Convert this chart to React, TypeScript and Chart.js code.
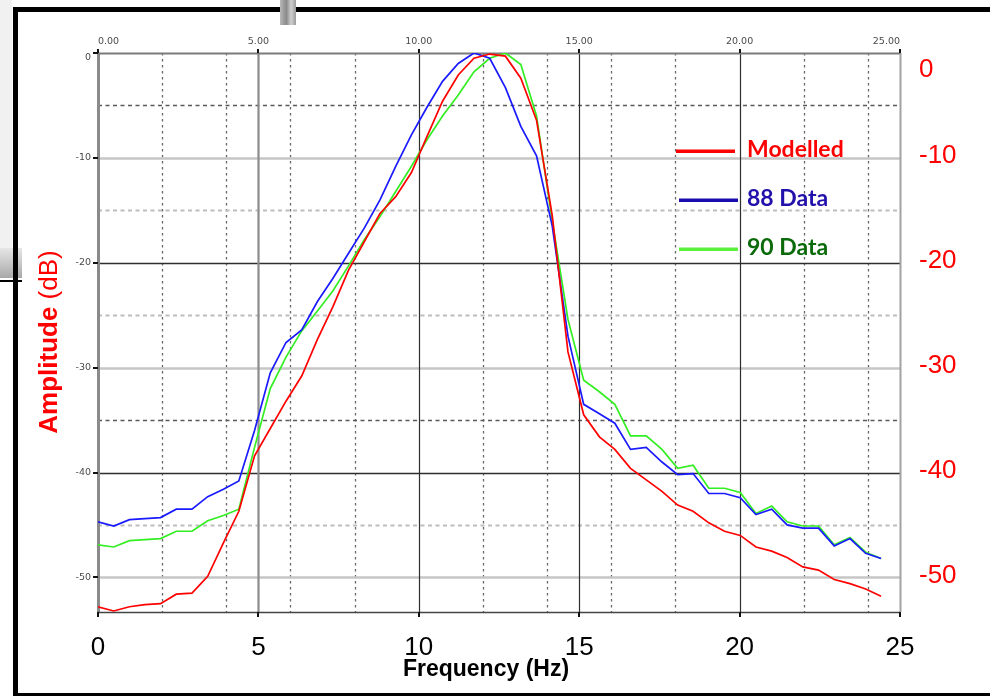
import React, { useEffect, useRef } from "react";
import { Chart, registerables } from "chart.js";

Chart.register(...registerables);

// Frequency bins (Hz)
const frequencies = [
  0, 0.49, 0.98, 1.46, 1.95, 2.44, 2.93, 3.42, 3.91, 4.39, 4.88, 5.37, 5.86, 6.35, 6.84, 7.32, 7.81,
  8.3, 8.79, 9.28, 9.77, 10.25, 10.74, 11.23, 11.72, 12.21, 12.7, 13.18, 13.67, 14.16, 14.65, 15.14,
  15.63, 16.11, 16.6, 17.09, 17.58, 18.07, 18.55, 19.04, 19.53, 20.02, 20.51, 21.0, 21.48, 21.97,
  22.46, 22.95, 23.44, 23.93, 24.41,
];

const modelled = [
  -52.8, -53.2, -52.8, -52.6, -52.5, -51.6, -51.5, -49.9, -46.7, -43.7, -38.4, -35.8, -33.2, -30.8,
  -27.3, -24.2, -20.7, -18.0, -15.3, -13.7, -11.4, -8.0, -4.6, -2.1, -0.5, -0.1, -0.3, -2.4, -6.4,
  -15.5, -28.5, -34.5, -36.6, -37.8, -39.6, -40.7, -41.8, -43.1, -43.7, -44.8, -45.6, -46.0, -47.1,
  -47.5, -48.1, -49.0, -49.3, -50.2, -50.6, -51.1, -51.8,
];

const data88 = [
  -44.7, -45.1, -44.5, -44.4, -44.3, -43.5, -43.5, -42.3, -41.6, -40.8, -36.0, -30.5, -27.6, -26.4,
  -23.7, -21.5, -19.1, -16.7, -14.0, -10.8, -7.8, -5.2, -2.7, -1.0, 0, -0.5, -3.3, -7.0, -9.8, -16.5,
  -27.0, -33.5, -34.4, -35.3, -37.8, -37.6, -39.0, -40.2, -40.1, -42.0, -42.0, -42.4, -44.0, -43.5,
  -45.0, -45.3, -45.3, -47.0, -46.3, -47.7, -48.2,
];

const data90 = [
  -46.9, -47.1, -46.5, -46.4, -46.3, -45.6, -45.6, -44.6, -44.1, -43.5, -37.6, -32.0, -29.0, -26.5,
  -24.6, -22.7, -20.3, -17.8, -15.6, -13.2, -10.8, -8.3, -6.0, -4.0, -1.8, -0.5, 0, -1.1, -6.0, -16.0,
  -25.4, -31.2, -32.3, -33.5, -36.5, -36.5, -37.8, -39.6, -39.3, -41.5, -41.5, -41.9, -43.9, -43.2,
  -44.7, -45.1, -45.1, -46.9, -46.2, -47.6, -48.2,
];

const seriesLabels = ["Modelled", "88 Data", "90 Data"];

const bottomTickValues = [0, 5, 10, 15, 20, 25];
const bottomTickLabels = ["0", "5", "10", "15", "20", "25"];
const topTickLabels = ["0.00", "5.00", "10.00", "15.00", "20.00", "25.00"];
const leftTickValues = [0, -10, -20, -30, -40, -50];
const leftTickLabels = ["0", "-10", "-20", "-30", "-40", "-50"];
const rightTickLabels = ["0", "-10", "-20", "-30", "-40", "-50"];

const solidVerticals = [5, 10, 15, 20];
const dottedVerticals = [2, 4, 6, 8, 12, 14, 16, 18, 22, 24];
const solidHorizontals = [-10, -20, -30, -40, -50];
const dashedHorizontals = [-5, -15, -25, -35, -45];

const X_MIN = 0;
const X_MAX = 25;
const Y_MIN = -53.3;
const Y_MAX = 0;

const xTitle = "Frequency (Hz)";
const yTitleBold = "Amplitude ";
const yTitleNormal = "(dB)";

const AXIS_FONT = '"Liberation Sans", Arial, sans-serif';
const SMALL_FONT = '"DejaVu Sans", Verdana, sans-serif';
const LEGEND_FONT = 'Lato, "Open Sans", sans-serif';

const lineColors = ["#ff0000", "#1a1aff", "#33ee22"];
const legendLineColors = ["#ff0000", "#1a0db0", "#5af03c"];
const legendTextColors = ["#ff0000", "#2211aa", "#0b6b0b"];

const decorPlugin = {
  id: "decor",
  beforeDraw(chart: any) {
    const ctx = chart.ctx as CanvasRenderingContext2D;
    ctx.save();
    ctx.fillStyle = "#ffffff";
    ctx.fillRect(0, 0, chart.width, chart.height);
    // faint scan artefacts
    ctx.fillStyle = "#f1f1f1";
    ctx.fillRect(0, 0, 12, 248);
    const g = ctx.createLinearGradient(0, 248, 0, 278);
    g.addColorStop(0, "#e6e6e6");
    g.addColorStop(0.5, "#c8c8c8");
    g.addColorStop(1, "#a8a8a8");
    ctx.fillStyle = g;
    ctx.fillRect(0, 248, 22, 30);
    // outer frame
    ctx.fillStyle = "#000000";
    ctx.fillRect(13, 7, chart.width - 13, 5);
    ctx.fillRect(13, 7, 5, chart.height - 7);
    ctx.fillRect(13, 693, chart.width - 13, 3);
    ctx.fillRect(0, 280, 22, 2);
    const gb = ctx.createLinearGradient(280, 0, 296, 0);
    gb.addColorStop(0, "#b8b8b8");
    gb.addColorStop(0.4, "#8a8a8a");
    gb.addColorStop(0.7, "#d0d0d0");
    gb.addColorStop(1, "#9a9a9a");
    ctx.fillStyle = gb;
    ctx.fillRect(280, 0, 16, 25);
    ctx.restore();
  },
  beforeDatasetsDraw(chart: any) {
    const ctx = chart.ctx as CanvasRenderingContext2D;
    const xs = chart.scales.x;
    const ys = chart.scales.y;
    const a = chart.chartArea;
    const vline = (v: number, color: string, w: number, dash: number[]) => {
      const px = Math.round(xs.getPixelForValue(v)) + 0.5;
      ctx.save();
      ctx.strokeStyle = color;
      ctx.lineWidth = w;
      ctx.setLineDash(dash);
      ctx.beginPath();
      ctx.moveTo(px, a.top);
      ctx.lineTo(px, a.bottom);
      ctx.stroke();
      ctx.restore();
    };
    const hline = (v: number, color: string, w: number, dash: number[]) => {
      const py = Math.round(ys.getPixelForValue(v)) + 0.5;
      ctx.save();
      ctx.strokeStyle = color;
      ctx.lineWidth = w;
      ctx.setLineDash(dash);
      ctx.beginPath();
      ctx.moveTo(a.left, py);
      ctx.lineTo(a.right, py);
      ctx.stroke();
      ctx.restore();
    };
    dottedVerticals.forEach((v) => vline(v, "#666666", 1.3, [2.5, 3.5]));
    dashedHorizontals.forEach((v) => {
      const dark = v === -5 || v === -35;
      hline(v, dark ? "#5a5a5a" : "#bdbdbd", dark ? 1.3 : 1.8, [4, 3.5]);
    });
    solidHorizontals.forEach((v) => {
      const dark = Math.abs(v) % 20 === 0;
      hline(v, dark ? "#2e2e2e" : "#c6c6c6", dark ? 1.3 : 2.5, []);
    });
    solidVerticals.forEach((v) => {
      if (v === 5) vline(v, "#8c8c8c", 2.2, []);
      else vline(v, "#2e2e2e", 1.2, []);
    });
    // plot borders
    vline(X_MIN, "#8a8a8a", 3, []);
    vline(X_MAX, "#a2a2a2", 2, []);
    hline(Y_MAX, "#7a7a7a", 2.2, []);
    hline(Y_MIN, "#444444", 1.5, []);
  },
  afterDatasetsDraw(chart: any) {
    const ctx = chart.ctx as CanvasRenderingContext2D;
    const xs = chart.scales.x;
    const ys = chart.scales.y;
    const a = chart.chartArea;
    ctx.save();
    // tick marks
    ctx.fillStyle = "#111111";
    bottomTickValues.forEach((v) => {
      const px = Math.round(xs.getPixelForValue(v));
      ctx.fillRect(px - 1, a.top - 4, 2, 4);
      ctx.fillRect(px - 1, a.bottom, 2, 5);
    });
    leftTickValues.forEach((v) => {
      const py = Math.round(ys.getPixelForValue(v));
      ctx.fillRect(a.left - 5, py - 1, 5, 2);
    });
    // top small labels
    ctx.font = `9.5px ${SMALL_FONT}`;
    ctx.fillStyle = "#4a4a4a";
    ctx.textBaseline = "alphabetic";
    bottomTickValues.forEach((v, i) => {
      const px = xs.getPixelForValue(v);
      ctx.textAlign = i === 0 ? "left" : i === bottomTickValues.length - 1 ? "right" : "center";
      ctx.fillText(topTickLabels[i], px, a.top - 9);
    });
    // left small labels
    ctx.textAlign = "right";
    ctx.textBaseline = "middle";
    leftTickValues.forEach((v, i) => {
      const py = Math.max(ys.getPixelForValue(v), a.top + 5);
      ctx.fillText(leftTickLabels[i], a.left - 7, py);
    });
    // bottom big labels
    ctx.font = `26px ${AXIS_FONT}`;
    ctx.fillStyle = "#000000";
    ctx.textAlign = "center";
    ctx.textBaseline = "alphabetic";
    bottomTickValues.forEach((v, i) => {
      ctx.fillText(bottomTickLabels[i], xs.getPixelForValue(v), a.bottom + 43);
    });
    // x title
    ctx.font = `bold 23px ${AXIS_FONT}`;
    ctx.fillText(xTitle, (a.left + a.right) / 2 - 13, a.bottom + 64);
    // right red labels
    ctx.font = `26px ${AXIS_FONT}`;
    ctx.fillStyle = "#ff0000";
    ctx.textAlign = "left";
    ctx.textBaseline = "middle";
    leftTickValues.forEach((v, i) => {
      const py = Math.max(ys.getPixelForValue(v) - 2, a.top + 17);
      ctx.fillText(rightTickLabels[i], a.right + 19, py);
    });
    // y title
    ctx.save();
    ctx.translate(57, 342);
    ctx.rotate(-Math.PI / 2);
    ctx.textAlign = "left";
    ctx.textBaseline = "alphabetic";
    ctx.font = `bold 26px ${AXIS_FONT}`;
    const w1 = ctx.measureText(yTitleBold).width;
    ctx.font = `26px ${AXIS_FONT}`;
    const w2 = ctx.measureText(yTitleNormal).width;
    const start = -(w1 + w2) / 2;
    ctx.fillStyle = "#ff0000";
    ctx.font = `bold 26px ${AXIS_FONT}`;
    ctx.fillText(yTitleBold, start, 0);
    ctx.font = `26px ${AXIS_FONT}`;
    ctx.fillText(yTitleNormal, start + w1, 0);
    ctx.restore();
    // legend
    const legendX = a.right - 224;
    const legendY0 = a.top + 98;
    const legendGap = 49;
    chart.data.datasets.forEach((ds: any, i: number) => {
      const y = legendY0 + i * legendGap;
      ctx.fillStyle = legendLineColors[i];
      const lx = i === 0 ? legendX : legendX + 3;
      ctx.fillRect(lx, y - 1.5, 59, 3.5);
      ctx.font = `bold 23px ${LEGEND_FONT}`;
      ctx.fillStyle = legendTextColors[i];
      ctx.textAlign = "left";
      ctx.textBaseline = "alphabetic";
      ctx.fillText(ds.label, legendX + 71, y + 6);
    });
    ctx.restore();
  },
};

export default function App() {
  const canvasRef = useRef<HTMLCanvasElement | null>(null);

  useEffect(() => {
    if (!canvasRef.current) return;
    const series = [modelled, data88, data90];
    const chart = new Chart(canvasRef.current, {
      type: "line",
      data: {
        datasets: series.map((vals, i) => ({
          label: seriesLabels[i],
          data: frequencies.map((f, j) => ({ x: f, y: vals[j] })),
          borderColor: lineColors[i],
          backgroundColor: lineColors[i],
          borderWidth: 1.7,
          pointRadius: 0,
          tension: 0,
          fill: false,
        })),
      },
      options: {
        responsive: false,
        animation: false,
        events: [],
        layout: { padding: { left: 98, top: 53, right: 90, bottom: 84 } },
        scales: {
          x: { type: "linear", min: X_MIN, max: X_MAX, display: false },
          y: { type: "linear", min: Y_MIN, max: Y_MAX, display: false },
        },
        plugins: {
          legend: { display: false },
          tooltip: { enabled: false },
        },
      },
      plugins: [decorPlugin],
    } as any);
    return () => chart.destroy();
  }, []);

  return (
    <div style={{ position: "fixed", left: 0, top: 0, width: 990, height: 696, background: "#fff" }}>
      <canvas ref={canvasRef} width={990} height={696} style={{ display: "block" }} />
    </div>
  );
}
